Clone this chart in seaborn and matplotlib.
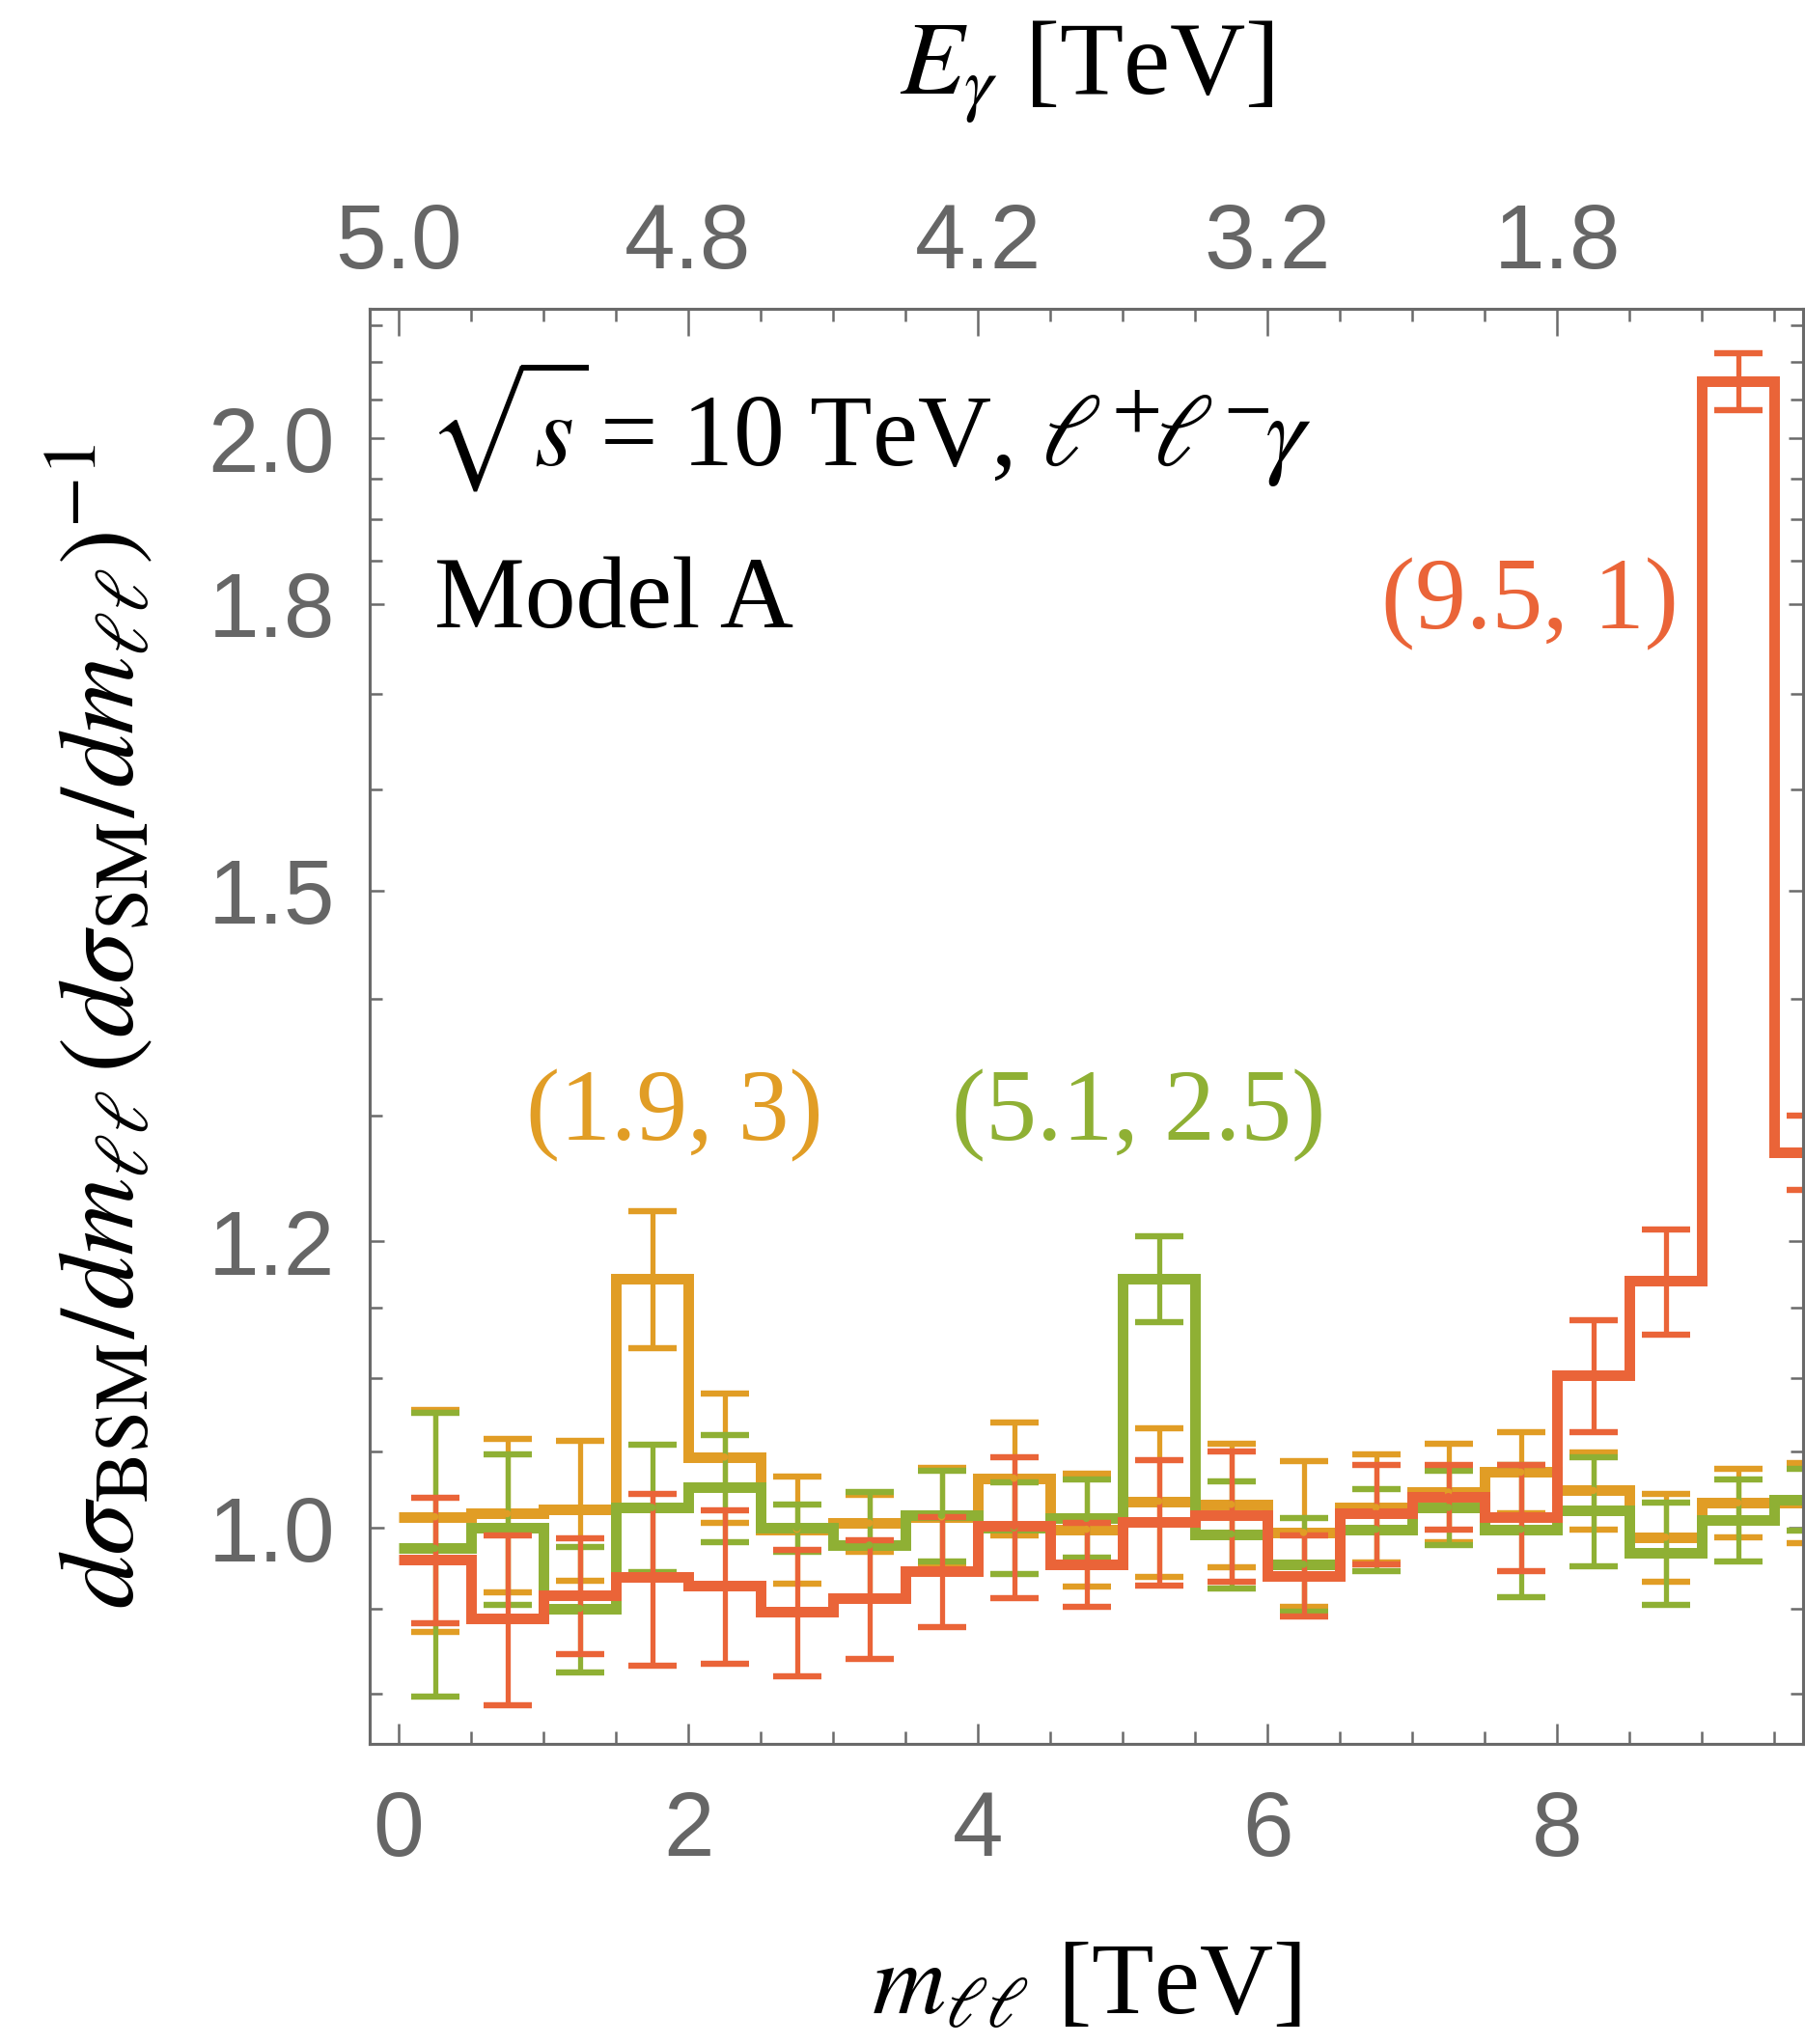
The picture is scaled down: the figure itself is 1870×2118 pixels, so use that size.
import numpy as np
import matplotlib
matplotlib.use("Agg")
import matplotlib.pyplot as plt
import seaborn as sns
from matplotlib.ticker import FixedLocator, FixedFormatter, NullFormatter

# ---- data: ratio of BSM to SM dilepton mass spectrum, 0.5 TeV bins ----
bin_edges = np.arange(0.0, 10.0 + 1e-9, 0.5)
bin_centers = 0.5 * (bin_edges[:-1] + bin_edges[1:])

ratio_19_3 = [1.007, 1.009, 1.012, 1.172, 1.046, 0.999, 1.003, 1.007, 1.032, 0.999,
              1.017, 1.015, 0.997, 1.013, 1.023, 1.036, 1.024, 0.994, 1.016, 1.016]
err_19_3 = [0.071, 0.049, 0.045, 0.051, 0.043, 0.034, 0.018, 0.032, 0.037, 0.036,
            0.048, 0.040, 0.046, 0.035, 0.032, 0.027, 0.025, 0.028, 0.022, 0.026]

ratio_51_25 = [0.987, 1.000, 0.950, 1.013, 1.026, 1.000, 0.989, 1.008, 1.000, 1.006,
               1.172, 0.996, 0.977, 0.999, 1.013, 0.999, 1.011, 0.984, 1.005, 1.018]
err_51_25 = [0.089, 0.048, 0.038, 0.041, 0.035, 0.015, 0.034, 0.029, 0.029, 0.025,
             0.032, 0.034, 0.029, 0.026, 0.024, 0.042, 0.035, 0.032, 0.026, 0.020]

ratio_95_1 = [0.980, 0.944, 0.958, 0.969, 0.964, 0.948, 0.956, 0.973, 1.001, 0.977,
              1.004, 1.008, 0.970, 1.009, 1.020, 1.007, 1.102, 1.170, 2.074, 1.270]
err_95_1 = [0.039, 0.051, 0.035, 0.053, 0.047, 0.038, 0.036, 0.034, 0.045, 0.026,
            0.040, 0.042, 0.025, 0.032, 0.021, 0.034, 0.039, 0.039, 0.038, 0.030]

series_labels = ["(1.9, 3)", "(5.1, 2.5)", "(9.5, 1)"]
series_colors = ["#E19D25", "#8FB034", "#EA6438"]
label_pos = [(1.907, 1.30), (5.113, 1.30), (7.813, 1.80)]

x_major = [0, 2, 4, 6, 8]
x_minor = [0.5, 1, 1.5, 2.5, 3, 3.5, 4.5, 5, 5.5, 6.5, 7, 7.5, 8.5, 9, 9.5]
x_labels = ["0", "2", "4", "6", "8"]
e_gamma_labels = ["5.0", "4.8", "4.2", "3.2", "1.8"]

y_major = [1.0, 1.2, 1.5, 1.8, 2.0]
y_labels = ["1.0", "1.2", "1.5", "1.8", "2.0"]
y_minor = [0.9, 0.95, 1.05, 1.1, 1.15, 1.3, 1.4, 1.6, 1.7, 1.85, 1.9, 1.95, 2.05, 2.1, 2.15]

# ---- style ----
sns.set_theme(style="ticks")
plt.rcParams["font.family"] = ["Liberation Serif", "DejaVu Serif"]
plt.rcParams["mathtext.fontset"] = "stix"
plt.rcParams["lines.solid_joinstyle"] = "miter"
plt.rcParams["lines.solid_capstyle"] = "butt"

axis_gray = "#6a6a6a"
label_gray = "#666666"

W, H = 1870, 2118
fig = plt.figure(figsize=(W / 100, H / 100), dpi=100)
ax = fig.add_axes([383 / W, 1 - 1807 / H, (1868 - 383) / W, (1807 - 320) / H])
ax.set_yscale("log")

series = [
    (ratio_19_3, err_19_3),
    (ratio_51_25, err_51_25),
    (ratio_95_1, err_95_1),
]

for (vals, errs), color in zip(series, series_colors):
    xs = np.append(bin_edges[:-1], bin_edges[-1])
    ys = np.append(vals, vals[-1])
    sns.lineplot(x=xs, y=ys, drawstyle="steps-post", color=color, lw=7.9,
                 estimator=None, sort=False, legend=False, ax=ax)
    ax.errorbar(bin_centers, vals, yerr=errs, fmt="none", ecolor=color,
                elinewidth=3.8, capsize=18, capthick=4.6)
    sns.scatterplot(x=bin_centers, y=vals, color=color, s=30, edgecolor="none",
                    legend=False, ax=ax, zorder=3)

ax.set_xlim(-0.2, 9.7)
ax.set_ylim(0.8715, 2.172)

# ---- ticks ----
ax.xaxis.set_major_locator(FixedLocator(x_major))
ax.xaxis.set_major_formatter(FixedFormatter(x_labels))
ax.xaxis.set_minor_locator(FixedLocator(x_minor))
ax.yaxis.set_major_locator(FixedLocator(y_major))
ax.yaxis.set_major_formatter(FixedFormatter(y_labels))
ax.yaxis.set_minor_locator(FixedLocator(y_minor))
ax.yaxis.set_minor_formatter(NullFormatter())

ax.tick_params(axis="both", which="both", direction="in", color=axis_gray, width=1.8,
               labelcolor=label_gray, labelsize=68, labelfontfamily="Liberation Sans")
ax.tick_params(axis="x", which="major", length=15, pad=34, top=False)
ax.tick_params(axis="x", which="minor", length=9.4, top=False)
ax.tick_params(axis="y", which="major", length=10.8, pad=26, right=True)
ax.tick_params(axis="y", which="minor", length=9.4, right=True)

for sp in ax.spines.values():
    sp.set_color(axis_gray)
    sp.set_linewidth(2.2)
    sp.set_visible(True)

# top axis: photon energy for sqrt(s) = 10 TeV
ax2 = ax.twiny()
ax2.set_xlim(ax.get_xlim())
ax2.xaxis.set_major_locator(FixedLocator(x_major))
ax2.xaxis.set_major_formatter(FixedFormatter(e_gamma_labels))
ax2.xaxis.set_minor_locator(FixedLocator(x_minor))
ax2.tick_params(axis="x", which="both", direction="in", color=axis_gray, width=1.8,
                labelcolor=label_gray, labelsize=68, labelfontfamily="Liberation Sans")
ax2.tick_params(axis="x", which="major", length=20, pad=16)
ax2.tick_params(axis="x", which="minor", length=9.4)
for sp in ax2.spines.values():
    sp.set_color(axis_gray)
    sp.set_linewidth(2.2)

# ---- labels ----
ax.set_xlabel(r"$m_{\ell\ell}$ [TeV]", fontsize=76, color="black")
ax.xaxis.set_label_coords(0.5, -0.138)
ax2.set_xlabel(r"$E_{\gamma}$ [TeV]", fontsize=78, color="black")
ax2.xaxis.set_label_coords(0.5, 1.149)
ax.set_ylabel(r"$d\sigma_{\mathrm{BSM}}/dm_{\ell\ell}\,(d\sigma_{\mathrm{SM}}/dm_{\ell\ell})^{-1}$",
              fontsize=80, color="black")
ax.yaxis.set_label_coords(-0.149, 0.5)

ax.text(0.04, 0.891, r"$\sqrt{s}\!$ = 10 TeV, $\ell^{+}\!\ell^{-}\!\gamma$", transform=ax.transAxes,
        fontsize=76, color="black", ha="left", va="baseline")
ax.text(0.045, 0.778, "Model A", transform=ax.transAxes,
        fontsize=76, color="black", ha="left", va="baseline")

for txt, (lx, ly), color in zip(series_labels, label_pos, series_colors):
    ax.text(lx, ly, txt, color=color, fontsize=76, ha="center", va="center")

fig.savefig("out.png", dpi=100)
